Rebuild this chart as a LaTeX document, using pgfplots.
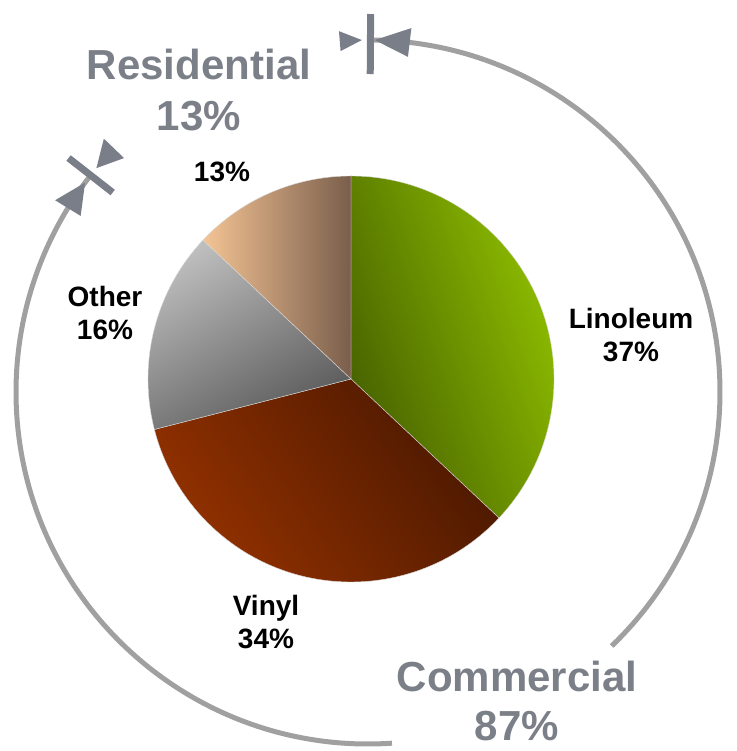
\documentclass[border=0pt]{standalone}
\usepackage{pgfplots}
\pgfplotsset{compat=1.18}
\usepackage{pgfplotstable}
\usepackage{fontspec}
\setmainfont{Liberation Sans}
\usetikzlibrary{calc}
\definecolor{linD}{HTML}{455F00}
\definecolor{linL}{HTML}{90C000}
\definecolor{vinL}{HTML}{963200}
\definecolor{vinD}{HTML}{4A1800}
\definecolor{othL}{HTML}{BEBEBE}
\definecolor{othD}{HTML}{5A5A5A}
\definecolor{resL}{HTML}{F4C494}
\definecolor{resD}{HTML}{7A5E4C}
\definecolor{tickgray}{HTML}{7A7E88}
\definecolor{arcgray}{HTML}{A0A0A0}
\definecolor{txtgray}{HTML}{7B7F87}

\pgfplotstableread{
label value
Linoleum 37
Vinyl 34
Other 16
Residential 13
}\piedata
\pgfplotstablegetelem{0}{value}\of\piedata\let\vA\pgfplotsretval
\pgfplotstablegetelem{1}{value}\of\piedata\let\vB\pgfplotsretval
\pgfplotstablegetelem{2}{value}\of\piedata\let\vC\pgfplotsretval
\pgfplotstablegetelem{3}{value}\of\piedata\let\vD\pgfplotsretval
\pgfmathsetmacro\aA{90}
\pgfmathsetmacro\aB{\aA-3.6*\vA}
\pgfmathsetmacro\aC{\aB-3.6*\vB}
\pgfmathsetmacro\aD{\aC-3.6*\vC}
\pgfmathsetmacro\aE{\aD-3.6*\vD}

\begin{document}
\begin{tikzpicture}
\begin{axis}[width=736pt,height=751pt,scale only axis,
  xmin=0,xmax=736,ymin=0,ymax=751,hide axis,clip=false]
\coordinate (P) at (axis cs:351,372);
\coordinate (C) at (axis cs:368,359);
% pie slices
\shadedraw[top color=linL,bottom color=linD,shading angle=-70,draw=white!70!gray,line width=0.4pt]
  (P) -- ($(P)+(\aA:203pt)$) arc[start angle=\aA,end angle=\aB,radius=203pt] -- cycle;
\shadedraw[top color=vinL,bottom color=vinD,shading angle=125,draw=white!70!gray,line width=0.4pt]
  (P) -- ($(P)+(\aB:203pt)$) arc[start angle=\aB,end angle=\aC,radius=203pt] -- cycle;
\shadedraw[top color=othL,bottom color=othD,shading angle=30,draw=white!70!gray,line width=0.4pt]
  (P) -- ($(P)+(\aC:203pt)$) arc[start angle=\aC,end angle=\aD,radius=203pt] -- cycle;
\shadedraw[left color=resL,right color=resD,draw=white!70!gray,line width=0.4pt]
  (P) -- ($(P)+(\aD:203pt)$) arc[start angle=\aD,end angle=\aE,radius=203pt] -- cycle;
% outer annotation arc
\draw[arcgray,line width=5pt] ($(C)+(89.6:352pt)$) arc[start angle=89.6,end angle=-46.2,radius=352pt];
\draw[arcgray,line width=5pt] ($(C)+(-86.1:352pt)$) arc[start angle=-86.1,end angle=-218,radius=352pt];
% ticks
\draw[tickgray,line width=7pt] ($(C)+(89.6:318pt)$) -- ($(C)+(89.6:378pt)$);
\draw[tickgray,line width=7pt] ($(C)+(142:324pt)$) -- ($(C)+(142:380pt)$);
% arrow heads
\fill[tickgray] ($(C)+(88.9:352pt)$) -- ($(C)+(83.2:337.5pt)$) -- ($(C)+(83.2:366.5pt)$) -- cycle;
\fill[tickgray] ($(C)+(91:352pt)$) -- ($(C)+(94.6:342pt)$) -- ($(C)+(94.6:362pt)$) -- cycle;
\fill[tickgray] ($(C)+(143.5:352pt)$) -- ($(C)+(148.5:337pt)$) -- ($(C)+(148.5:367pt)$) -- cycle;
\fill[tickgray] ($(C)+(140.5:352pt)$) -- ($(C)+(136.2:338pt)$) -- ($(C)+(136.2:366pt)$) -- cycle;
% labels
\node[font=\bfseries\fontsize{28}{33}\selectfont,align=center] at (axis cs:222,579) {13\%};
\node[font=\bfseries\fontsize{28}{33}\selectfont,align=center] at (axis cs:105,438) {Other\\16\%};
\node[font=\bfseries\fontsize{28}{33}\selectfont,align=center] at (axis cs:631,416) {Linoleum\\37\%};
\node[font=\bfseries\fontsize{28}{33}\selectfont,align=center] at (axis cs:266,129) {Vinyl\\34\%};
\node[font=\bfseries\fontsize{42}{51}\selectfont,align=center,text=txtgray] at (axis cs:199,661) {Residential\\13\%};
\node[font=\bfseries\fontsize{42}{49}\selectfont,align=center,text=txtgray] at (axis cs:517,50) {Commercial\\87\%};
\end{axis}
\pgfresetboundingbox
\path (current axis.south west) rectangle (current axis.north east);
\end{tikzpicture}
\end{document}
